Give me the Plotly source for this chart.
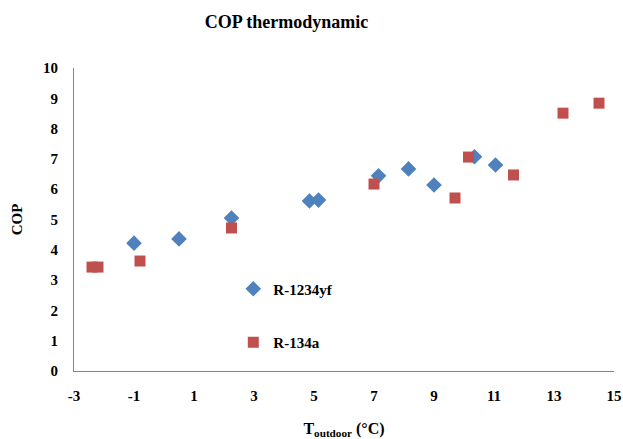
import plotly.graph_objects as go

x_1234yf = [-1.0, 0.5, 2.25, 4.85, 5.15, 7.15, 8.15, 9.0, 10.35, 11.05]
cop_1234yf = [4.22, 4.36, 5.05, 5.61, 5.64, 6.44, 6.67, 6.14, 7.07, 6.80]

x_134a = [-2.4, -2.2, -0.8, 2.25, 7.0, 9.7, 10.15, 11.65, 13.3, 14.5]
cop_134a = [3.43, 3.43, 3.63, 4.72, 6.17, 5.71, 7.06, 6.47, 8.51, 8.84]

x_ticks = [-3, -1, 1, 3, 5, 7, 9, 11, 13, 15]
y_ticks = list(range(0, 11))

font = "Liberation Serif"

fig = go.Figure()
fig.add_trace(go.Scatter(
    x=x_1234yf, y=cop_1234yf, mode="markers", name="<b>R-1234yf</b>",
    legendgroup="a",
    marker=dict(symbol="diamond", size=12, color="#4F81BD"),
))
fig.add_trace(go.Scatter(
    x=x_134a, y=cop_134a, mode="markers", name="<b>R-134a</b>",
    legendgroup="b",
    marker=dict(symbol="square", size=11, color="#C0504D"),
))

fig.update_layout(
    width=623, height=439,
    margin=dict(l=74, r=9, t=68, b=68),
    paper_bgcolor="white", plot_bgcolor="white",
    font=dict(family=font, size=15, color="black"),
    title=dict(text="<b>COP thermodynamic</b>", x=0.46, xanchor="center",
               y=0.95, yanchor="middle", font=dict(size=18, family=font)),
    showlegend=True,
    legend=dict(x=0.295, y=0.325, xanchor="left", yanchor="top",
                bgcolor="rgba(0,0,0,0)", tracegroupgap=31,
                font=dict(size=15, family=font), itemwidth=30),
    xaxis=dict(range=[-3, 15], tickvals=x_ticks,
               ticktext=[f"<b>{v}</b>" for v in x_ticks],
               showgrid=False, zeroline=False, showline=True,
               linecolor="#868686", linewidth=1, ticks="",
               ticklabelstandoff=11, automargin=False,
               title=dict(text="<b>T<sub>outdoor</sub> (°C)</b>", standoff=20,
                          font=dict(size=16, family=font))),
    yaxis=dict(range=[0, 10], tickvals=y_ticks,
               ticktext=[f"<b>{v}</b>" for v in y_ticks],
               showgrid=False, zeroline=False, showline=True,
               linecolor="#868686", linewidth=1, ticks="",
               ticklabelstandoff=12, automargin=False,
               title=dict(text="<b>COP</b>", standoff=16,
                          font=dict(size=15, family=font))),
)

fig.write_html("out.html")
